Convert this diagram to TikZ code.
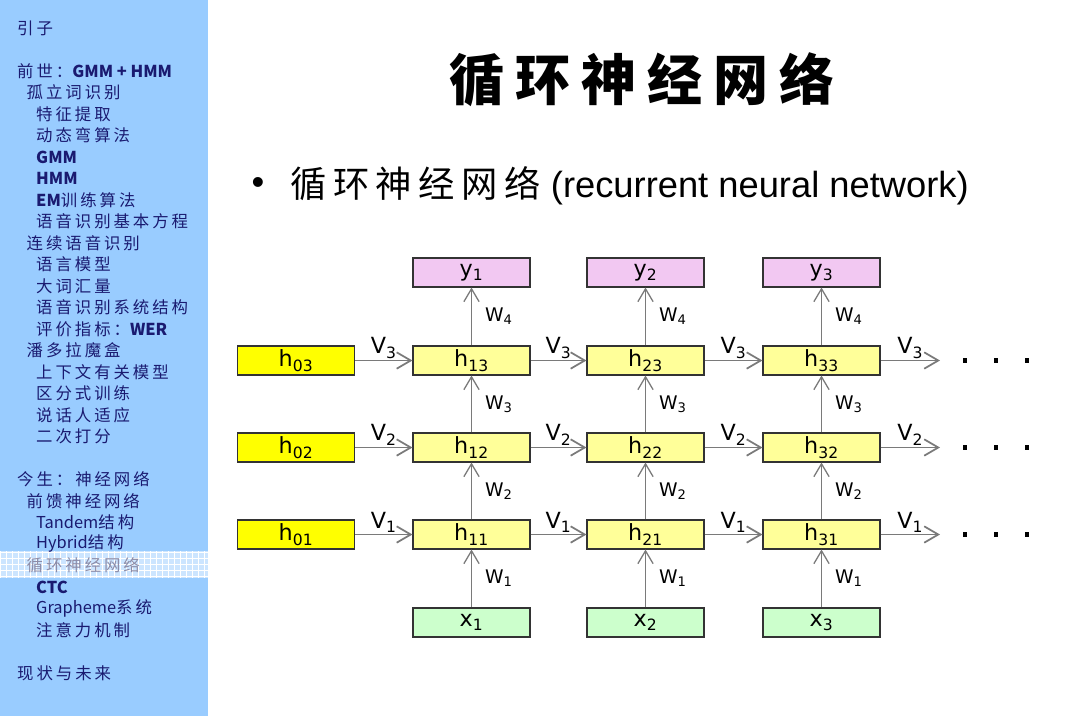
\documentclass[tikz,border=0pt]{standalone}
\usepackage{fontspec}
\setmainfont{DejaVu Sans}
\newfontfamily\cjk{Noto Sans CJK SC}[LetterSpace=18]
\newfontfamily\navlatin{Noto Sans CJK SC}
\newfontfamily\cjktitle{Noto Sans CJK SC}[LetterSpace=20]
\newfontfamily\arialfont{Liberation Sans}
\usetikzlibrary{arrows.meta, positioning, calc}

\definecolor{sidebg}{HTML}{99CCFF}
\definecolor{navtext}{HTML}{1A1A70}
\definecolor{navgray}{HTML}{8C8CA8}
\definecolor{bandbg}{HTML}{CCE5FF}
\definecolor{outpink}{HTML}{F2C8F2}
\definecolor{hidyellow}{HTML}{FFFF99}
\definecolor{inityellow}{HTML}{FFFF00}
\definecolor{ingreen}{HTML}{CCFFCC}
\definecolor{arrowgray}{HTML}{7A7A7A}

\newcommand{\acr}[1]{{\navlatin\bfseries #1}}
\newcommand{\lat}[1]{{\navlatin #1}}

\begin{document}
\begin{tikzpicture}[
    x=0.03cm, y=-0.03cm,
    cell/.style={draw=black!80, line width=0.9pt, rectangle, minimum width=3.51cm, minimum height=0.87cm, inner sep=0pt, font=\fontsize{19}{19}\selectfont},
    outbox/.style={cell, fill=outpink},
    hidbox/.style={cell, fill=hidyellow},
    initbox/.style={cell, fill=inityellow},
    inbox/.style={cell, fill=ingreen},
    rec/.style={draw=arrowgray, line width=1.5pt, -{Straight Barb[length=12pt, width=14pt]}},
    feed/.style={draw=arrowgray, line width=1.1pt, -{Straight Barb[length=11pt, width=13pt]}},
    vlab/.style={above, inner sep=1pt, font=\fontsize{19}{19}\selectfont},
    wlab/.style={right=10pt, inner sep=1pt, font=\fontsize{16}{16}\selectfont},
    navitem/.style={anchor=west, inner sep=0pt, text=navtext, font=\cjk\fontsize{14}{14}\selectfont},
    trail dot/.style={fill=black, inner sep=0pt, minimum size=3.5pt}
]
\useasboundingbox (0,0) rectangle (1087,716);

% Sidebar
\fill[sidebg] (0,0) rectangle (208,716);
\fill[bandbg] (0,551) rectangle (208,578);
\draw[white, line width=0.3pt, step=0.18cm] (0,551) grid (208,578);
\foreach \lvl/\row/\txt in {0/0/{引子}, 0/2/{前世：\acr{GMM + HMM}}, 1/3/{孤立词识别}, 2/4/{特征提取},
    2/5/{动态弯算法}, 2/6/{\acr{GMM}}, 2/7/{\acr{HMM}}, 2/8/{\acr{EM}训练算法}, 2/9/{语音识别基本方程},
    1/10/{连续语音识别}, 2/11/{语言模型}, 2/12/{大词汇量}, 2/13/{语音识别系统结构},
    2/14/{评价指标：\acr{WER}}, 1/15/{潘多拉魔盒}, 2/16/{上下文有关模型}, 2/17/{区分式训练},
    2/18/{说话人适应}, 2/19/{二次打分}, 0/21/{今生：神经网络}, 1/22/{前馈神经网络},
    2/23/{\lat{Tandem}结构}, 2/24/{\lat{Hybrid}结构}, 2/26/{\acr{CTC}}, 2/27/{\lat{Grapheme}系统},
    2/28/{注意力机制}, 0/30/{现状与未来}}
  \node[navitem] (nav\row) at (17+9.5*\lvl, 28+21.5*\row) {\txt};
\node[navitem, text=navgray] (nav25) at (26.5, 28+21.5*25) {循环神经网络};

% Title
\node[font=\cjktitle\bfseries\fontsize{47}{47}\selectfont] (title) at (642,80) {循环神经网络};
\node[font=\arialfont\fontsize{31}{31}\selectfont] (bullet) at (258,186) {•};
\node[anchor=west, inner sep=0pt, font=\arialfont\fontsize{31}{31}\selectfont] (subtitle) at (290,186) {{\cjk 循环神经网络} (recurrent neural network)};

% Nodes
\foreach \r in {1,2,3}
  \node[initbox] (h0\r) at (296, 621.5-87*\r) {h\textsubscript{0\r}};
\foreach \c/\cx in {1/471.5, 2/645.5, 3/821.5} {
  \node[outbox] (y\c) at (\cx,272.5) {y\textsubscript{\c}};
  \node[hidbox] (h\c3) at (\cx,360.5) {h\textsubscript{\c3}};
  \node[hidbox] (h\c2) at (\cx,447.5) {h\textsubscript{\c2}};
  \node[hidbox] (h\c1) at (\cx,534.5) {h\textsubscript{\c1}};
  \node[inbox] (x\c) at (\cx,622.5) {x\textsubscript{\c}};
}

% Vertical edges
\foreach \c in {1,2,3} {
  \draw[feed] (x\c) -- node[wlab] {W\textsubscript{1}} (h\c1);
  \draw[feed] (h\c1) -- node[wlab] {W\textsubscript{2}} (h\c2);
  \draw[feed] (h\c2) -- node[wlab] {W\textsubscript{3}} (h\c3);
  \draw[feed] (h\c3) -- node[wlab] {W\textsubscript{4}} (y\c);
}

% Recurrent edges
\foreach \r in {1,2,3} {
  \coordinate (tail\r) at (940, 621.5-87*\r);
  \draw[rec] (h0\r) -- node[vlab] {V\textsubscript{\r}} (h1\r);
  \draw[rec] (h1\r) -- node[vlab] {V\textsubscript{\r}} (h2\r);
  \draw[rec] (h2\r) -- node[vlab] {V\textsubscript{\r}} (h3\r);
  \draw[rec] (h3\r) -- node[vlab] {V\textsubscript{\r}} (tail\r);
  \foreach \k in {0,1,2}
    \node[trail dot] (dot\r\k) at (965+31*\k, 621.5-87*\r) {};
}

\end{tikzpicture}
\end{document}
